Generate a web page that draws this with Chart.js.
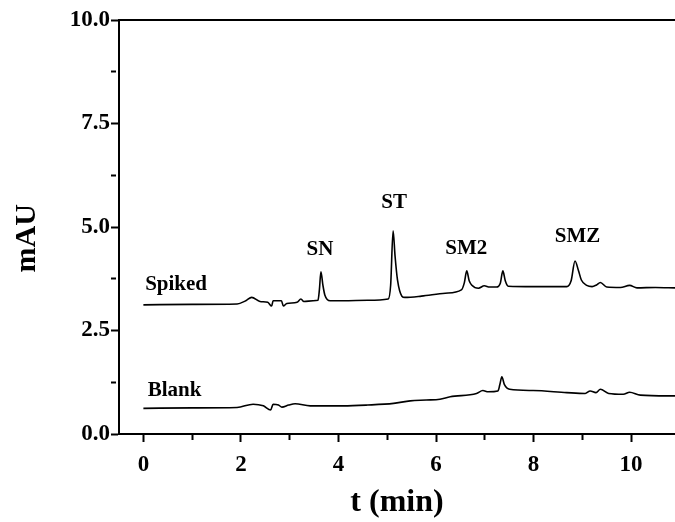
<!DOCTYPE html>
<html><head><meta charset="utf-8">
<script src="https://cdn.jsdelivr.net/npm/chart.js@4.4.1/dist/chart.umd.min.js"></script>
<style>html,body{margin:0;padding:0;background:#fff;} #wrap{width:675px;height:522px;position:relative;}</style>
</head><body><div id="wrap"><canvas id="c" width="675" height="522"></canvas></div>
<script>
// ---- data ----
const spikedT = [0, 1.0, 1.92, 2.1, 2.22, 2.39, 2.55, 2.63, 2.66, 2.83, 2.87, 2.94, 3.15, 3.23, 3.29, 3.48, 3.58, 3.61, 3.64, 3.68, 3.72, 3.83, 4.1, 4.6, 5.02, 5.07, 5.12, 5.16, 5.21, 5.30, 5.36, 5.7, 6.19, 6.52, 6.58, 6.63, 6.68, 6.73, 6.87, 6.99, 7.10, 7.24, 7.32, 7.37, 7.42, 7.48, 7.99, 8.68, 8.77, 8.85, 8.92, 8.98, 9.09, 9.2, 9.29, 9.37, 9.5, 9.78, 9.97, 10.12, 10.5, 10.9];
const spikedV = [3.12, 3.13, 3.14, 3.22, 3.30, 3.20, 3.18, 3.09, 3.22, 3.22, 3.09, 3.15, 3.18, 3.26, 3.20, 3.22, 3.23, 3.5, 3.92, 3.6, 3.36, 3.22, 3.22, 3.23, 3.26, 3.6, 4.91, 4.3, 3.72, 3.33, 3.30, 3.33, 3.40, 3.48, 3.65, 3.94, 3.7, 3.60, 3.52, 3.58, 3.55, 3.55, 3.65, 3.94, 3.7, 3.57, 3.56, 3.56, 3.7, 4.18, 3.95, 3.72, 3.59, 3.56, 3.6, 3.66, 3.55, 3.54, 3.59, 3.53, 3.54, 3.53];
const blankT = [0, 1.0, 1.92, 2.25, 2.46, 2.61, 2.66, 2.77, 2.84, 2.98, 3.11, 3.42, 4.1, 4.6, 5.13, 5.47, 5.8, 6.08, 6.29, 6.83, 6.96, 7.07, 7.27, 7.31, 7.35, 7.4, 7.51, 7.99, 8.68, 9.06, 9.16, 9.28, 9.37, 9.54, 9.84, 9.97, 10.19, 10.9];
const blankV = [0.62, 0.63, 0.64, 0.72, 0.68, 0.58, 0.72, 0.70, 0.65, 0.70, 0.73, 0.68, 0.68, 0.70, 0.74, 0.80, 0.82, 0.84, 0.90, 0.98, 1.05, 1.02, 1.04, 1.2, 1.38, 1.2, 1.08, 1.05, 1.00, 0.98, 1.04, 1.0, 1.08, 0.98, 0.96, 1.01, 0.94, 0.92];
const xTickLabels = ['0', '2', '4', '6', '8', '10'];
const yTickLabels = ['0.0', '2.5', '5.0', '7.5', '10.0'];
const peakNames = ['SN', 'ST', 'SM2', 'SMZ'];
const peakLabelT = [3.62, 5.14, 6.62, 8.9];
const peakLabelV = [4.32, 5.46, 4.35, 4.64];
const traceNames = ['Spiked', 'Blank'];
const traceLabelT = [0.67, 0.64];
const traceLabelV = [3.48, 0.92];

const FONT = '"Liberation Serif", "Times New Roman", serif';
const toXY = (ts, vs) => ts.map((t, i) => ({x: t, y: vs[i]}));

const textLabels = {
  id: 'textLabels',
  afterDatasetsDraw(chart) {
    const {ctx, scales: {x, y}} = chart;
    ctx.save();
    ctx.fillStyle = '#000';
    ctx.textAlign = 'center';
    ctx.textBaseline = 'alphabetic';
    ctx.font = 'bold 21px ' + FONT;
    peakNames.forEach((n, i) => ctx.fillText(n, x.getPixelForValue(peakLabelT[i]), y.getPixelForValue(peakLabelV[i])));
    traceNames.forEach((n, i) => ctx.fillText(n, x.getPixelForValue(traceLabelT[i]), y.getPixelForValue(traceLabelV[i])));
    ctx.restore();
  }
};

const minorDash = (ctx, majorStep) => (ctx.tick && Math.abs(ctx.tick.value / majorStep - Math.round(ctx.tick.value / majorStep)) > 1e-6) ? [5, 50] : [];

new Chart(document.getElementById('c'), {
  type: 'line',
  data: {
    datasets: [
      {label: traceNames[0], data: toXY(spikedT, spikedV), borderColor: '#000', borderWidth: 1.6, pointRadius: 0, cubicInterpolationMode: 'monotone', fill: false},
      {label: traceNames[1], data: toXY(blankT, blankV), borderColor: '#000', borderWidth: 1.6, pointRadius: 0, cubicInterpolationMode: 'monotone', fill: false}
    ]
  },
  options: {
    responsive: false,
    animation: false,
    devicePixelRatio: 1,
    layout: {padding: {left: 0, right: 0, top: 20, bottom: 0}},
    plugins: {legend: {display: false}, tooltip: {enabled: false}},
    scales: {
      x: {
        type: 'linear', position: 'bottom', min: -0.5, max: 10.9,
        afterFit: s => { s.height = 88; },
        border: {display: true, color: '#000', width: 2},
        grid: {display: true, drawOnChartArea: false, drawTicks: true, tickLength: 8, tickColor: '#000', tickWidth: 2,
               tickBorderDash: ctx => minorDash(ctx, 2)},
        ticks: {stepSize: 1, includeBounds: false, autoSkip: false, maxRotation: 0, padding: 9, color: '#000',
                font: {family: FONT, size: 23, weight: 'bold'},
                callback: v => (Math.abs(v % 2) < 1e-6 ? xTickLabels[Math.round(v / 2)] : '')},
        title: {display: true, text: 't (min)', color: '#000', font: {family: FONT, size: 32, weight: 'bold'}, padding: {top: 0, bottom: 0}}
      },
      xTop: {
        type: 'linear', position: 'top', min: -0.5, max: 10.9, display: true,
        afterFit: s => { s.height = 0; },
        border: {display: true, color: '#000', width: 2},
        grid: {display: false, drawOnChartArea: false, drawTicks: false},
        ticks: {display: false}
      },
      y: {
        type: 'linear', position: 'left', min: 0, max: 10,
        afterFit: s => { s.width = 119; },
        border: {display: true, color: '#000', width: 2},
        grid: {display: true, drawOnChartArea: false, drawTicks: true, tickLength: 8, tickColor: '#000', tickWidth: 2,
               tickBorderDash: ctx => minorDash(ctx, 2.5)},
        ticks: {stepSize: 1.25, includeBounds: false, autoSkip: false, padding: 1, color: '#000',
                font: {family: FONT, size: 23, weight: 'bold'},
                callback: v => (Math.abs(v % 2.5) < 1e-6 ? yTickLabels[Math.round(v / 2.5)] : '')},
        title: {display: true, text: 'mAU\u00A0\u00A0\u00A0', color: '#000', font: {family: FONT, size: 30, weight: 'bold'}, padding: {top: 9, bottom: 0}}
      }
    }
  },
  plugins: [textLabels]
});
</script>
</body></html>
